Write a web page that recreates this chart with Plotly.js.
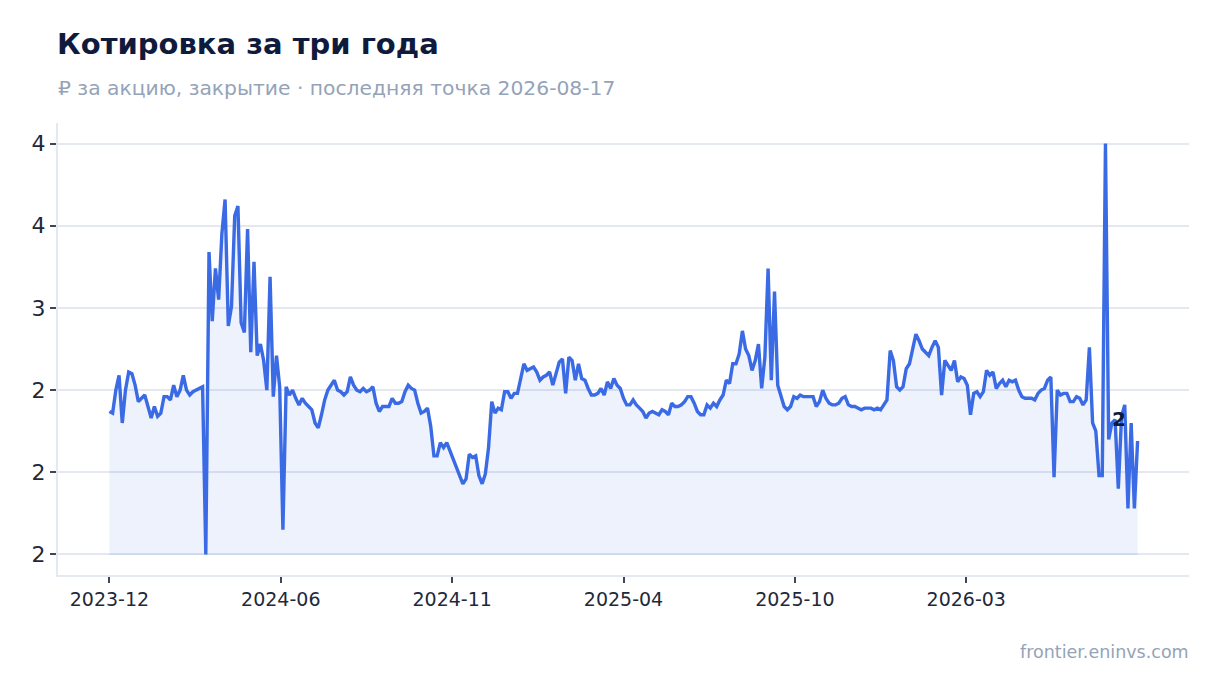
<!DOCTYPE html>
<html>
<head>
<meta charset="utf-8">
<script src="https://cdn.plot.ly/plotly-3.0.1.min.js"></script>
<style>
  html, body { margin: 0; padding: 0; background: #ffffff; }
  #plot { width: 1220px; height: 693px; }
</style>
</head>
<body>
<div id="plot"></div>
<script>
// Данные: цены закрытия, шаг 3 дня, первая точка 2023-12-31
const firstDate = '2023-12-31';
const stepDays = 3;
const closes = [
  2.37, 2.36, 2.50, 2.59, 2.30, 2.50, 2.61, 2.60, 2.53, 2.43,
  2.45, 2.47, 2.40, 2.33, 2.40, 2.34, 2.36, 2.46, 2.46, 2.44,
  2.53, 2.46, 2.50, 2.59, 2.50, 2.47, 2.49, 2.50, 2.51, 2.52,
  1.50, 3.34, 2.92, 3.24, 3.05, 3.45, 3.66, 2.89, 3.01, 3.56,
  3.62, 2.91, 2.85, 3.48, 2.73, 3.28, 2.71, 2.78, 2.68, 2.50,
  3.19, 2.46, 2.71, 2.52, 1.65, 2.52, 2.47,
  2.50, 2.45, 2.41, 2.45, 2.42, 2.40, 2.38, 2.30, 2.27, 2.35,
  2.44, 2.50, 2.53, 2.56, 2.50, 2.49, 2.47, 2.49, 2.58, 2.53,
  2.50, 2.49, 2.51, 2.49, 2.50, 2.52, 2.42, 2.37, 2.40, 2.40,
  2.40, 2.45, 2.42, 2.42, 2.43, 2.49, 2.53, 2.51, 2.50, 2.42,
  2.36, 2.37, 2.39, 2.28, 2.10, 2.10, 2.18, 2.15, 2.18, 2.13,
  2.08, 2.02, 1.97, 1.93, 1.96, 2.11, 2.09, 2.10, 1.98, 1.93, 1.99,
  2.15, 2.43, 2.36, 2.39, 2.38, 2.49, 2.49, 2.45, 2.48, 2.48,
  2.57, 2.66, 2.62, 2.63, 2.64, 2.61, 2.56, 2.58, 2.59, 2.61,
  2.53, 2.60, 2.67, 2.69, 2.48, 2.70, 2.68, 2.56, 2.66, 2.57,
  2.56, 2.51, 2.47, 2.47, 2.48, 2.51, 2.47, 2.55, 2.51, 2.57,
  2.53, 2.51, 2.45, 2.41, 2.41, 2.44, 2.41, 2.39, 2.37, 2.33,
  2.36, 2.37, 2.36, 2.35, 2.38, 2.37, 2.35, 2.42, 2.40, 2.40,
  2.41, 2.43, 2.46, 2.46, 2.42, 2.37, 2.35, 2.35, 2.41, 2.39,
  2.42, 2.40, 2.44, 2.47, 2.56, 2.54, 2.66, 2.66, 2.72, 2.86,
  2.75, 2.71, 2.62, 2.68, 2.78, 2.51, 2.70, 3.24, 2.56, 3.10,
  2.53, 2.46, 2.40, 2.38, 2.40, 2.46, 2.45, 2.47, 2.46, 2.46,
  2.46, 2.46, 2.40, 2.43, 2.50, 2.45, 2.42, 2.41, 2.41, 2.42,
  2.45, 2.46, 2.41, 2.40, 2.40, 2.39, 2.38, 2.39, 2.39,
  2.39, 2.38, 2.39, 2.38, 2.41, 2.44, 2.74, 2.68, 2.52, 2.50,
  2.52, 2.63, 2.66, 2.75, 2.84, 2.80, 2.75, 2.73, 2.71, 2.76,
  2.80, 2.76, 2.47, 2.68, 2.65, 2.62, 2.68, 2.55, 2.58, 2.57,
  2.53, 2.35, 2.48, 2.49, 2.46, 2.49, 2.62, 2.59, 2.61, 2.51,
  2.54, 2.56, 2.52, 2.56, 2.55, 2.56, 2.50, 2.46, 2.45, 2.45,
  2.45, 2.44, 2.48, 2.50, 2.51, 2.56, 2.58, 1.97, 2.50,
  2.47, 2.48, 2.48, 2.43, 2.43, 2.46, 2.45, 2.41, 2.44, 2.76,
  2.30, 2.25, 1.98, 1.98, 4.00, 2.20, 2.30, 2.32, 1.90, 2.34,
  2.41, 1.78, 2.30, 1.78, 2.19
];

// Подписи осей
const xTickDates = ['2023-12-31', '2024-06-08', '2024-11-15', '2025-04-24', '2025-10-01', '2026-03-10'];
const xTickLabels = ['2023-12', '2024-06', '2024-11', '2025-04', '2025-10', '2026-03'];
const yTickVals = [1.5, 2, 2.5, 3, 3.5, 4];
const yTickLabels = ['2', '2', '2', '3', '4', '4'];

const DAY = 86400000;
const t0 = Date.parse(firstDate + 'T00:00:00Z');
const dates = closes.map((_, i) => new Date(t0 + i * stepDays * DAY).toISOString().slice(0, 10));

const lo = Math.min(...closes);
const hi = Math.max(...closes);
const tEnd = t0 + (closes.length - 1) * stepDays * DAY;
const padT = (tEnd - t0) * 0.05;
const padY = (hi - lo) * 0.05;
const iso = t => new Date(t).toISOString().slice(0, 10);

const blue = '#3a6be5';
const font = 'DejaVu Sans, sans-serif';

const baseTrace = {
  type: 'scatter', mode: 'lines',
  x: dates, y: closes.map(() => lo),
  line: { width: 1, color: 'rgba(58,107,229,0.10)' },
  hoverinfo: 'skip', showlegend: false
};

const priceTrace = {
  type: 'scatter', mode: 'lines',
  x: dates, y: closes,
  fill: 'tonexty', fillcolor: 'rgba(58,107,229,0.09)',
  line: { color: blue, width: 3.4 },
  showlegend: false
};

const last = closes[closes.length - 1];

const layout = {
  width: 1220, height: 693,
  paper_bgcolor: '#ffffff', plot_bgcolor: '#ffffff',
  margin: { l: 58, r: 31, t: 123, b: 118 },
  font: { family: font, color: '#1e293b' },
  title: {
    text: '<b>Котировка за три года</b>',
    x: 57 / 1220, xanchor: 'left', xref: 'container',
    y: 1 - 44 / 693, yanchor: 'middle', yref: 'container',
    font: { size: 29, color: '#0f1b3d', family: font }
  },
  xaxis: {
    type: 'date',
    range: [iso(t0 - padT), iso(tEnd + padT)],
    tickvals: xTickDates, ticktext: xTickLabels,
    ticks: 'outside', ticklen: 6, tickwidth: 2, tickcolor: '#3f4756',
    tickfont: { size: 19, color: '#1e293b' },
    showgrid: false, zeroline: false,
    showline: true, linecolor: '#e4e8f0', linewidth: 2
  },
  yaxis: {
    range: [lo - padY, hi + padY],
    tickvals: yTickVals, ticktext: yTickLabels,
    ticks: 'outside', ticklen: 6, tickwidth: 2, tickcolor: '#3f4756',
    tickfont: { size: 22, color: '#1e293b' },
    showgrid: true, gridcolor: '#e4e8f0', gridwidth: 2,
    zeroline: false,
    showline: true, linecolor: '#e4e8f0', linewidth: 2
  },
  annotations: [
    {
      xref: 'paper', yref: 'paper', x: 0, y: (575 - 88) / 452,
      xanchor: 'left', yanchor: 'middle', showarrow: false, xshift: -2,
      text: '₽ за акцию, закрытие · последняя точка 2026-08-17',
      font: { size: 20.3, color: '#94a3b8', family: font }
    },
    {
      xref: 'paper', yref: 'paper', x: 1, y: (575 - 652) / 452,
      xanchor: 'right', yanchor: 'middle', showarrow: false, xshift: 2,
      text: 'frontier.eninvs.com',
      font: { size: 17.5, color: '#94a3b8', family: font }
    },
    {
      x: dates[dates.length - 1], y: last,
      xanchor: 'center', yanchor: 'middle', xshift: -19, yshift: 22,
      showarrow: false,
      text: '<b>' + Math.round(last) + '</b>',
      font: { size: 20, color: '#0f1b3d', family: font }
    }
  ]
};

Plotly.newPlot('plot', [baseTrace, priceTrace], layout, { staticPlot: true, displayModeBar: false });
</script>
</body>
</html>
